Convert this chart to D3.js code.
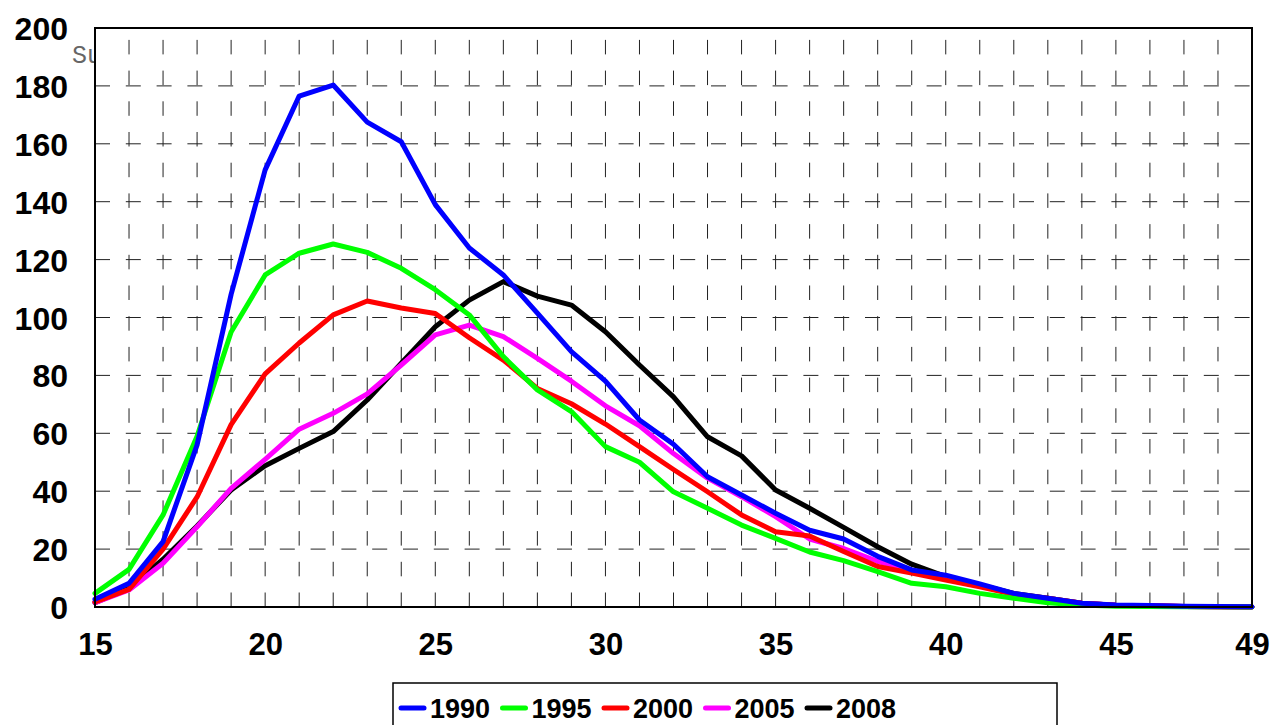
<!DOCTYPE html>
<html>
<head>
<meta charset="utf-8">
<script src="https://cdn.jsdelivr.net/npm/d3@7"></script>
<style>
  html, body { margin: 0; padding: 0; background: #fff; }
  svg { display: block; }
</style>
</head>
<body>
<svg id="chart" width="1271" height="725"></svg>
<script>
const ages = d3.range(15, 50);
const seriesNames = ["1990", "1995", "2000", "2005", "2008"];
const seriesColors = ["#0000ff", "#00ff00", "#ff0000", "#ff00ff", "#000000"];

const v1990 = [2.7, 8.2, 22.6, 56, 108, 151, 176.5, 180.3, 167.5, 160.7, 139, 124, 114.7, 101.5, 88.2, 78, 64.6, 56.2, 45, 38.7, 32.4, 26.5, 23.5, 17.5, 12.8, 11, 8, 4.7, 3, 1.3, 0.7, 0.5, 0.3, 0.2, 0.1];
const v1995 = [4.7, 13, 31.8, 59, 95, 114.7, 122.2, 125.4, 122.5, 117, 109.6, 100.9, 86.5, 75, 67.5, 55.4, 50, 39.8, 34.1, 28.3, 23.7, 19, 16, 12.2, 8.2, 7, 4.7, 3, 1.5, 0.7, 0.3, 0.2, 0.1, 0.1, 0];
const v2000 = [1.8, 6.1, 20, 38, 63, 80.5, 91.2, 100.9, 105.7, 103.3, 101.4, 93, 85.3, 75.5, 70.2, 63.2, 55.4, 47.5, 39.8, 31.8, 26, 24.5, 19.2, 14, 11.7, 9.3, 7, 4.4, 3, 1.3, 0.6, 0.4, 0.2, 0.1, 0];
const v2005 = [1.5, 5.9, 15.1, 27.7, 41, 51, 61.4, 66.9, 73.6, 83.6, 94, 97.4, 93.4, 85.9, 78, 69.5, 62.6, 53, 44.5, 38.1, 31.2, 23.5, 20.2, 15.8, 12.5, 10.3, 7.4, 4.5, 2.8, 1.3, 0.6, 0.4, 0.2, 0.1, 0];
const v2008 = [1.5, 6.5, 16.5, 28, 40.4, 48.8, 54.8, 60.6, 71.5, 84.2, 96.8, 106, 112.4, 107.4, 104.3, 95.1, 83.6, 72.6, 58.8, 52.2, 40.4, 34.1, 27.5, 20.8, 14.8, 10.5, 7.6, 4.7, 3, 1.3, 0.6, 0.4, 0.2, 0.1, 0];

const xTickValues = [15, 20, 25, 30, 35, 40, 45, 49];
const yTickValues = [0, 20, 40, 60, 80, 100, 120, 140, 160, 180, 200];
const overlayText = "Su";

const seriesValues = [v1990, v1995, v2000, v2005, v2008];
const series = seriesNames.map((name, i) => ({
  name, color: seriesColors[i],
  points: ages.map((a, j) => ({ age: a, value: seriesValues[i][j] }))
}));

const svg = d3.select("#chart");
const FONT = "'Liberation Sans', Arial, sans-serif";
const L = 95, R = 1252, T = 28, B = 607;

const x = d3.scaleLinear().domain([15, 49]).range([L, R]);
const y = d3.scaleLinear().domain([0, 200]).range([B, T]);

// Overlay text partly hidden behind plot area
svg.append("text")
  .attr("x", 72).attr("y", 63)
  .attr("font-family", "'Liberation Mono', 'DejaVu Sans Mono', monospace")
  .attr("font-size", 25)
  .attr("fill", "#666")
  .text(overlayText);

// plot area
svg.append("rect")
  .attr("x", L).attr("y", T).attr("width", R - L).attr("height", B - T)
  .attr("fill", "#fff");

// grid
const grid = svg.append("g");
grid.selectAll("line.v")
  .data(d3.range(16, 49))
  .join("line")
  .attr("x1", d => x(d)).attr("x2", d => x(d))
  .attr("y1", B).attr("y2", T)
  .attr("stroke", "#222").attr("stroke-width", 1)
  .attr("stroke-dasharray", "14.5,16.2");
grid.selectAll("line.h")
  .data(yTickValues.filter(v => v > 0 && v < 200))
  .join("line")
  .attr("x1", L).attr("x2", R)
  .attr("y1", d => y(d)).attr("y2", d => y(d))
  .attr("stroke", "#222").attr("stroke-width", 1)
  .attr("stroke-dasharray", "15,15.8");

// lines (draw 2008 first, 1990 last)
const line = d3.line().x(d => x(d.age)).y(d => y(d.value));
svg.append("g")
  .selectAll("path")
  .data(series.slice().reverse())
  .join("path")
  .attr("d", d => line(d.points))
  .attr("fill", "none")
  .attr("stroke", d => d.color)
  .attr("stroke-width", 5)
  .attr("stroke-linejoin", "round")
  .attr("stroke-linecap", "round");

// border
svg.append("rect")
  .attr("x", L).attr("y", T).attr("width", R - L).attr("height", B - T)
  .attr("fill", "none").attr("stroke", "#000").attr("stroke-width", 2);

// y axis
const yAxis = svg.append("g")
  .attr("transform", `translate(${L},0)`)
  .call(d3.axisLeft(y).tickValues(yTickValues).tickSize(0).tickPadding(27).tickFormat(d3.format("d")));
yAxis.select(".domain").remove();
yAxis.selectAll("text")
  .attr("font-family", FONT).attr("font-size", 32).attr("font-weight", "bold")
  .attr("fill", "#000").attr("dy", "0.36em");

// x axis
const xAxis = svg.append("g")
  .attr("transform", `translate(0,${B})`)
  .call(d3.axisBottom(x).tickValues(xTickValues).tickSize(0).tickFormat(d3.format("d")));
xAxis.select(".domain").remove();
xAxis.selectAll("text")
  .attr("font-family", FONT).attr("font-size", 31).attr("font-weight", "bold")
  .attr("fill", "#000").attr("y", 48).attr("dy", 0);

// legend
const lg = svg.append("g");
lg.append("rect")
  .attr("x", 393).attr("y", 683).attr("width", 664).attr("height", 60)
  .attr("fill", "#fff").attr("stroke", "#000").attr("stroke-width", 1.5);
const lx = d3.scalePoint().domain(seriesNames).range([400, 806]);
const items = lg.selectAll("g.item").data(series).join("g")
  .attr("transform", d => `translate(${lx(d.name)},0)`);
items.append("line")
  .attr("x1", 1).attr("x2", 24).attr("y1", 708).attr("y2", 708)
  .attr("stroke", d => d.color).attr("stroke-width", 5).attr("stroke-linecap", "round");
items.append("text")
  .attr("x", 30).attr("y", 718)
  .attr("font-family", FONT).attr("font-size", 27).attr("font-weight", "bold")
  .attr("fill", "#000")
  .text(d => d.name);
</script>
</body>
</html>
